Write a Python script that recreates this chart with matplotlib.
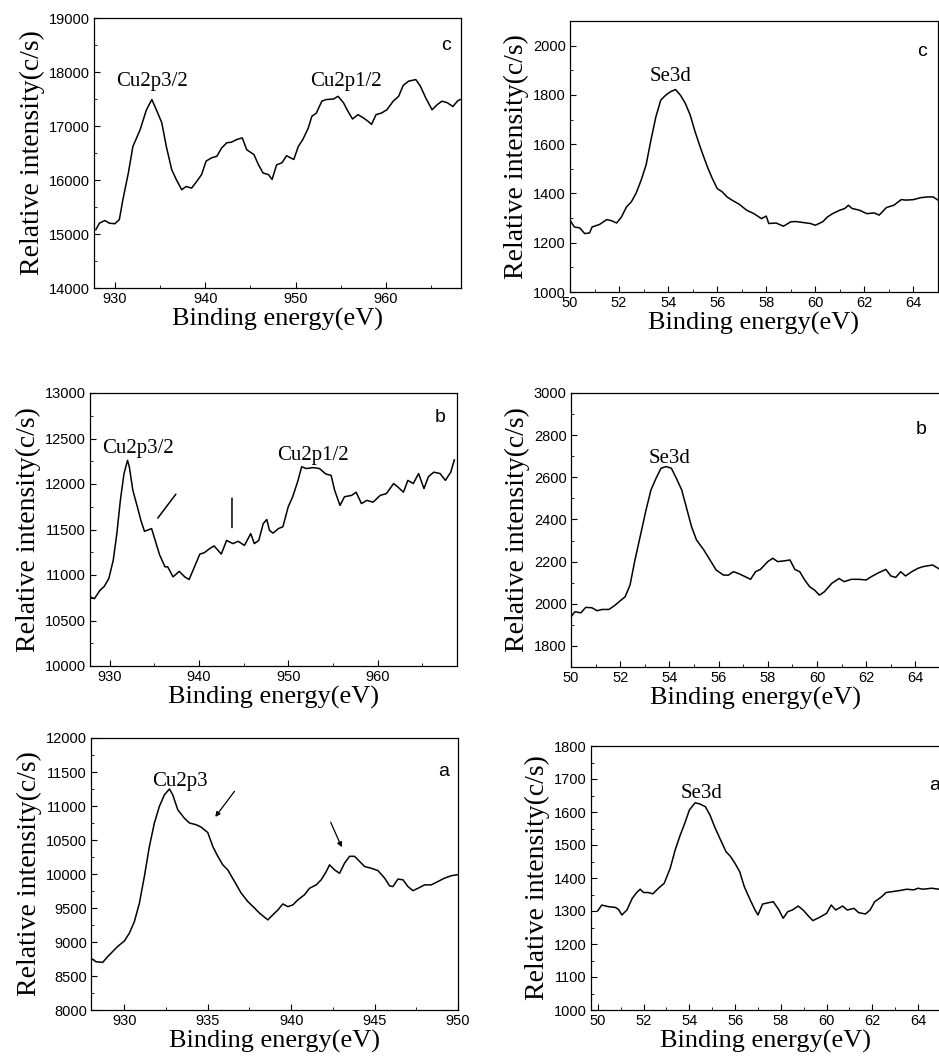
import matplotlib
matplotlib.use("Agg")
import matplotlib.pyplot as plt
from matplotlib.ticker import MultipleLocator

# Cu2p spectra (binding energy eV, counts/s)
cu_c_e = [927.9, 928.3, 928.9, 929.4, 930.0, 930.5, 930.9, 931.5, 932.0, 932.8, 933.5, 934.1, 934.6,
          935.2, 935.7, 936.3, 936.8, 937.4, 937.9, 938.5, 939.0, 939.6, 940.1, 940.7, 941.3, 941.8,
          942.4, 942.9, 943.5, 944.1, 944.6, 945.4, 945.9, 946.4, 947.0, 947.4, 947.9, 948.5, 949.0,
          949.8, 950.3, 950.8, 951.4, 951.8, 952.3, 952.9, 953.4, 954.2, 954.7, 955.3, 955.8, 956.3,
          956.9, 957.5, 958.0, 958.4, 958.9, 959.5, 960.1, 960.8, 961.4, 961.9, 962.5, 963.3, 963.8,
          964.4, 965.1, 965.7, 966.2, 966.8, 967.4, 967.9, 968.2]
cu_c_i = [15080, 15200, 15250, 15200, 15190, 15265, 15640, 16130, 16620, 16930, 17300, 17490, 17300,
          17060, 16620, 16190, 16010, 15820, 15880, 15850, 15960, 16100, 16350, 16410, 16440, 16590,
          16690, 16700, 16750, 16780, 16560, 16470, 16280, 16130, 16100, 16010, 16280, 16320, 16450,
          16380, 16620, 16750, 16960, 17180, 17240, 17460, 17490, 17500, 17550, 17430, 17270, 17130,
          17210, 17150, 17090, 17030, 17210, 17240, 17300, 17460, 17550, 17750, 17830, 17860, 17740,
          17520, 17300, 17400, 17460, 17430, 17360, 17460, 17490]

cu_b_e = [927.8, 928.3, 928.9, 929.4, 929.9, 930.4, 930.8, 931.2, 931.6, 932.0, 932.2, 932.6, 933.1,
          933.5, 933.9, 934.7, 935.1, 935.6, 936.2, 936.5, 937.1, 937.8, 938.4, 938.9, 939.5, 940.1,
          940.6, 941.2, 941.7, 942.5, 943.1, 943.8, 944.4, 945.1, 945.8, 946.2, 946.7, 947.2, 947.6,
          947.9, 948.3, 948.9, 949.4, 950.0, 950.5, 951.1, 951.5, 952.0, 952.8, 953.5, 954.2, 954.8,
          955.2, 955.8, 956.3, 957.1, 957.6, 958.2, 958.8, 959.5, 960.3, 961.0, 961.8, 962.3, 962.9,
          963.4, 964.0, 964.6, 965.2, 965.7, 966.3, 967.0, 967.6, 968.2, 968.6]
cu_b_i = [10760, 10740, 10830, 10875, 10960, 11160, 11450, 11820, 12110, 12260, 12190, 11930, 11750,
          11600, 11480, 11510, 11380, 11220, 11090, 11090, 10980, 11040, 10980, 10950, 11090, 11230,
          11245, 11290, 11320, 11230, 11380, 11345, 11370, 11325, 11455, 11345, 11380, 11565, 11610,
          11490, 11460, 11510, 11530, 11750, 11860, 12040, 12190, 12170, 12180, 12170, 12110, 12095,
          11930, 11765, 11860, 11875, 11910, 11785, 11820, 11800, 11875, 11895, 12005, 11965, 11910,
          12040, 12005, 12115, 11950, 12080, 12130, 12115, 12040, 12130, 12265]

cu_a_e = [928.0, 928.3, 928.7, 929.0, 929.3, 929.6, 930.0, 930.3, 930.6, 930.9, 931.2, 931.5, 931.8,
          932.1, 932.4, 932.7, 932.9, 933.2, 933.6, 933.9, 934.3, 934.6, 935.0, 935.3, 935.6, 935.9,
          936.2, 936.6, 937.0, 937.4, 937.8, 938.1, 938.6, 938.9, 939.2, 939.5, 939.8, 940.1, 940.4,
          940.8, 941.1, 941.5, 941.8, 942.1, 942.3, 942.6, 942.9, 943.2, 943.5, 943.8, 944.1, 944.4,
          944.8, 945.2, 945.6, 945.9, 946.1, 946.4, 946.7, 947.0, 947.3, 947.6, 948.0, 948.4, 948.8,
          949.2, 949.6, 950.0]
cu_a_i = [8760, 8710, 8700, 8785, 8860, 8935, 9015, 9130, 9300, 9570, 9965, 10405, 10750, 10995,
          11165, 11250, 11165, 10945, 10820, 10750, 10725, 10690, 10610, 10405, 10260, 10135, 10060,
          9890, 9720, 9595, 9500, 9425, 9325, 9400, 9470, 9560, 9520, 9545, 9620, 9695, 9790, 9840,
          9915, 10035, 10135, 10060, 10010, 10160, 10260, 10260, 10185, 10110, 10085, 10050, 9940,
          9825, 9815, 9925, 9915, 9815, 9755, 9790, 9840, 9840, 9890, 9940, 9975, 9990]

# Se3d spectra
se_c_e = [50.0, 50.18, 50.4, 50.6, 50.8, 50.9, 51.2, 51.5, 51.7, 51.9, 52.1, 52.3, 52.5, 52.7, 52.9,
          53.1, 53.3, 53.5, 53.7, 53.9, 54.1, 54.3, 54.5, 54.7, 54.9, 55.1, 55.35, 55.6, 55.8, 56.0,
          56.2, 56.4, 56.6, 56.9, 57.2, 57.5, 57.8, 58.0, 58.1, 58.4, 58.7, 59.0, 59.2, 59.5, 59.8,
          60.0, 60.3, 60.5, 60.7, 61.0, 61.2, 61.35, 61.5, 61.8, 62.1, 62.4, 62.6, 62.9, 63.2, 63.5,
          63.7, 64.0, 64.3, 64.6, 64.8, 65.0]
se_c_i = [1291, 1264, 1260, 1237, 1240, 1264, 1274, 1294, 1289, 1280, 1305, 1345, 1366, 1402, 1454,
          1515, 1617, 1711, 1779, 1799, 1813, 1822, 1799, 1766, 1718, 1650, 1576, 1508, 1461, 1420,
          1407, 1386, 1373, 1356, 1332, 1318, 1298, 1308, 1278, 1280, 1267, 1285, 1286, 1282, 1278,
          1271, 1285, 1305, 1318, 1332, 1339, 1352, 1339, 1332, 1318, 1321, 1312, 1343, 1352, 1375,
          1373, 1375, 1383, 1386, 1386, 1373]

se_b_e = [50.0, 50.16, 50.4, 50.6, 50.85, 51.06, 51.26, 51.54, 51.8, 52.0, 52.2, 52.4, 52.6, 52.84,
          53.05, 53.25, 53.46, 53.66, 53.87, 54.08, 54.28, 54.5, 54.7, 54.9, 55.1, 55.4, 55.65, 55.9,
          56.2, 56.4, 56.6, 56.8, 57.0, 57.3, 57.5, 57.7, 58.0, 58.2, 58.4, 58.7, 58.9, 59.1, 59.3,
          59.5, 59.7, 59.9, 60.1, 60.3, 60.6, 60.9, 61.1, 61.4, 61.7, 62.0, 62.2, 62.5, 62.8, 63.0,
          63.2, 63.4, 63.6, 63.85, 64.1, 64.3, 64.7, 65.0]
se_b_i = [1938, 1962, 1957, 1983, 1981, 1967, 1973, 1973, 1994, 2014, 2033, 2089, 2208, 2334, 2445,
          2540, 2596, 2643, 2651, 2643, 2596, 2540, 2453, 2366, 2303, 2255, 2208, 2160, 2136, 2136,
          2152, 2144, 2133, 2116, 2152, 2163, 2200, 2216, 2200, 2204, 2208, 2163, 2152, 2113, 2081,
          2065, 2041, 2057, 2097, 2120, 2105, 2116, 2116, 2113, 2128, 2147, 2163, 2132, 2125, 2152,
          2132, 2152, 2168, 2176, 2184, 2163]

se_a_e = [50.0, 50.17, 50.47, 50.76, 50.9, 51.05, 51.27, 51.5, 51.7, 51.85, 52.0, 52.2, 52.4, 52.65,
          52.9, 53.16, 53.38, 53.6, 53.8, 54.0, 54.25, 54.47, 54.7, 54.9, 55.1, 55.3, 55.6, 55.8, 56.0,
          56.2, 56.4, 56.65, 56.87, 57.0, 57.2, 57.45, 57.67, 57.9, 58.1, 58.3, 58.5, 58.76, 59.0,
          59.2, 59.4, 59.7, 60.0, 60.2, 60.4, 60.7, 60.9, 61.2, 61.4, 61.7, 61.9, 62.1, 62.4, 62.6,
          62.9, 63.2, 63.5, 63.8, 64.0, 64.2, 64.6, 64.9]
se_a_i = [1301, 1318, 1313, 1311, 1305, 1288, 1303, 1338, 1356, 1366, 1356, 1356, 1352, 1369, 1384,
          1429, 1485, 1530, 1566, 1606, 1628, 1624, 1616, 1591, 1556, 1525, 1480, 1465, 1444, 1419,
          1374, 1335, 1303, 1288, 1321, 1325, 1328, 1305, 1278, 1298, 1303, 1315, 1301, 1285, 1271,
          1281, 1293, 1318, 1303, 1315, 1303, 1308, 1295, 1291, 1303, 1328, 1343, 1356, 1359, 1362,
          1366, 1364, 1369, 1366, 1369, 1366]

W, H = 939, 1059
SERIF = "Liberation Serif"
SANS = "Liberation Sans"

fig = plt.figure(figsize=(W / 100, H / 100), dpi=100)


def make_ax(box, xlim, ylim, xmaj, xmin, ymaj, ymin):
    l, r, t, b = box
    ax = fig.add_axes([l / W, 1 - b / H, (r - l) / W, (b - t) / H])
    ax.set_xlim(*xlim)
    ax.set_ylim(*ylim)
    ax.xaxis.set_major_locator(MultipleLocator(xmaj))
    ax.xaxis.set_minor_locator(MultipleLocator(xmin))
    ax.yaxis.set_major_locator(MultipleLocator(ymaj))
    ax.yaxis.set_minor_locator(MultipleLocator(ymin))
    ax.tick_params(which="both", direction="in", labelsize=10.5, pad=3)
    ax.tick_params(which="major", length=4, width=0.8)
    ax.tick_params(which="minor", length=2.5, width=0.6)
    for lab in ax.get_xticklabels() + ax.get_yticklabels():
        lab.set_family(SANS)
    for s in ax.spines.values():
        s.set_linewidth(0.9)
    ax.set_xlabel("Binding energy(eV)", family=SERIF, fontsize=19, labelpad=1)
    ax.set_ylabel("Relative intensity(c/s)", family=SERIF, fontsize=20, labelpad=3)
    return ax


def letter(ax, txt, fx, fy):
    ax.text(fx, fy, txt, transform=ax.transAxes, family=SANS, fontsize=14,
            ha="center", va="center")


def peak(ax, txt, x, y):
    ax.text(x, y, txt, family=SERIF, fontsize=15, ha="center", va="center")


# top left: Cu c
ax1 = make_ax((94, 461, 18, 288), (927.7, 968.3), (14000, 19000), 10, 5, 1000, 500)
ax1.plot(cu_c_e, cu_c_i, color="black", lw=1.1)
peak(ax1, "Cu2p3/2", 934.1, 17830)
peak(ax1, "Cu2p1/2", 955.6, 17830)
letter(ax1, "c", 0.96, 0.9)

# top right: Se c
ax2 = make_ax((570, 938, 21, 292), (50, 65), (1000, 2100), 2, 1, 200, 100)
ax2.plot(se_c_e, se_c_i, color="black", lw=1.1)
peak(ax2, "Se3d", 54.1, 1874)
letter(ax2, "c", 0.956, 0.887)

# middle left: Cu b
ax3 = make_ax((90, 457, 393, 666), (927.8, 968.9), (10000, 13000), 10, 5, 500, 250)
ax3.plot(cu_b_e, cu_b_i, color="black", lw=1.1)
peak(ax3, "Cu2p3/2", 933.2, 12388)
peak(ax3, "Cu2p1/2", 952.8, 12315)
ax3.annotate("", xy=(935.2, 11601), xytext=(937.6, 11912),
             arrowprops=dict(arrowstyle="-", color="black", lw=1.1))
ax3.annotate("", xy=(943.7, 11491), xytext=(943.7, 11875),
             arrowprops=dict(arrowstyle="-", color="black", lw=1.1))
letter(ax3, "b", 0.954, 0.912)

# middle right: Se b
ax4 = make_ax((571, 940, 393, 667), (50, 65), (1700, 3000), 2, 1, 200, 100)
ax4.plot(se_b_e, se_b_i, color="black", lw=1.1)
peak(ax4, "Se3d", 54.0, 2690)
letter(ax4, "b", 0.95, 0.865)

# bottom left: Cu a
ax5 = make_ax((91, 458, 738, 1010), (928, 950), (8000, 12000), 5, 2.5, 500, 250)
ax5.plot(cu_a_e, cu_a_i, color="black", lw=1.1)
peak(ax5, "Cu2p3", 933.35, 11362)
ax5.annotate("", xy=(935.35, 10807), xytext=(936.7, 11249),
             arrowprops=dict(arrowstyle="-|>", color="black", lw=0.9, mutation_scale=7))
ax5.annotate("", xy=(943.1, 10356), xytext=(942.3, 10798),
             arrowprops=dict(arrowstyle="-|>", color="black", lw=0.9, mutation_scale=7))
letter(ax5, "a", 0.96, 0.876)

# bottom right: Se a
ax6 = make_ax((591, 941, 746, 1010), (49.7, 65), (1000, 1800), 2, 1, 100, 50)
ax6.plot(se_a_e, se_a_i, color="black", lw=1.1)
peak(ax6, "Se3d", 54.54, 1657)
letter(ax6, "a", 0.983, 0.852)

fig.savefig("out.png", dpi=100)
